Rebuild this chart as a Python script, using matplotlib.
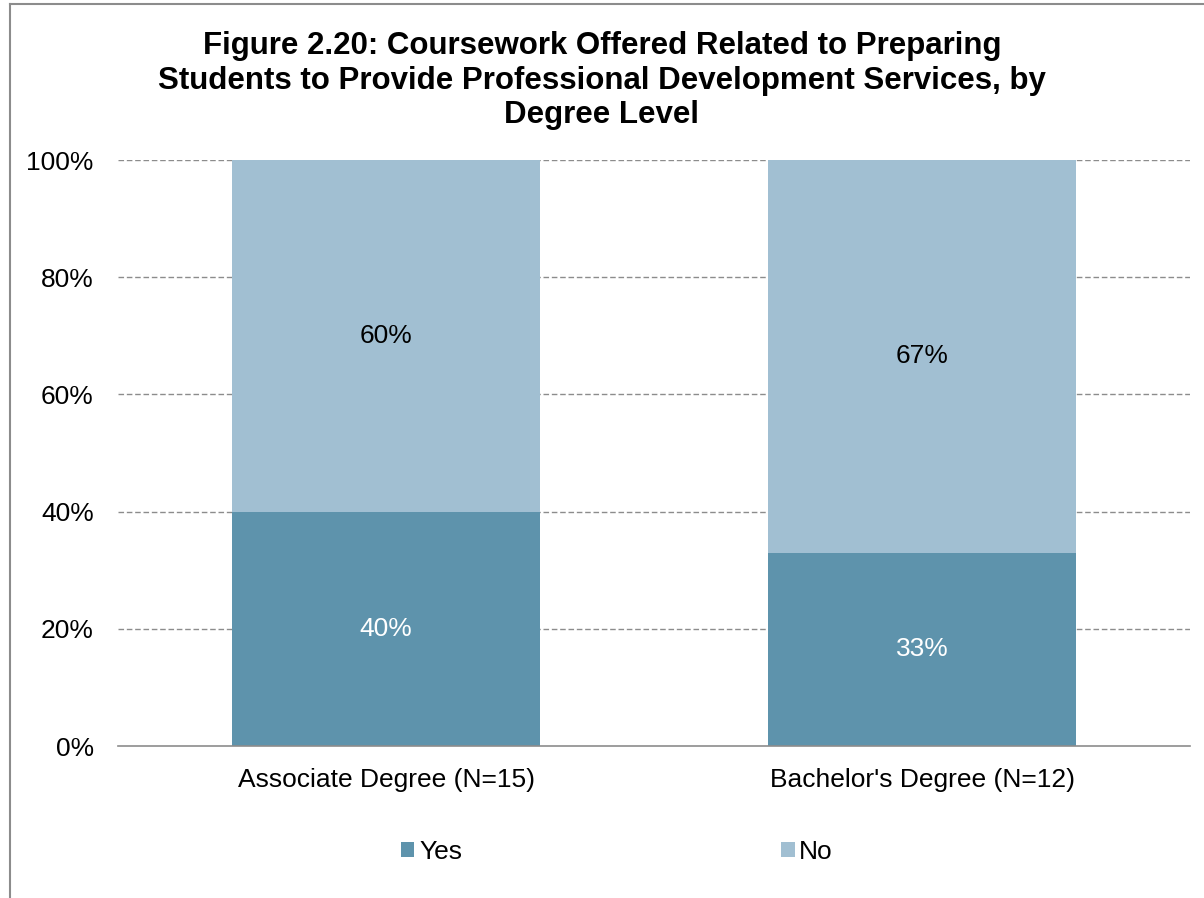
import matplotlib
matplotlib.use("Agg")
import matplotlib.pyplot as plt
from matplotlib.lines import Line2D
from matplotlib.patches import Patch

categories = ["Associate Degree (N=15)", "Bachelor's Degree (N=12)"]
series_names = ["Yes", "No"]
yes_values = [40, 33]
no_values = [60, 67]
y_ticks = [0, 20, 40, 60, 80, 100]
y_tick_labels = ["0%", "20%", "40%", "60%", "80%", "100%"]
title = ("Figure 2.20: Coursework Offered Related to Preparing\n"
         "Students to Provide Professional Development Services, by\n"
         "Degree Level")

yes_color = "#5E93AC"
no_color = "#A1BFD2"
plt.rcParams["font.family"] = ["Liberation Sans", "DejaVu Sans"]
FS = 19

W, H = 1204, 898
fig = plt.figure(figsize=(W / 100, H / 100), dpi=100)
ax = fig.add_axes([118 / W, 1 - 746 / H, (1190 - 118) / W, (746 - 160) / H])

x = list(range(len(categories)))
bar_w = 0.573
ax.bar(x, yes_values, width=bar_w, color=yes_color, zorder=3, label=series_names[0])
ax.bar(x, no_values, width=bar_w, bottom=yes_values, color=no_color, zorder=3,
       label=series_names[1])

for xi, yv, nv in zip(x, yes_values, no_values):
    ax.text(xi, yv / 2, f"{yv}%", ha="center", va="center", fontsize=FS, color="white", zorder=4)
    ax.text(xi, yv + nv / 2, f"{nv}%", ha="center", va="center", fontsize=FS, color="black", zorder=4)

ax.set_xlim(-0.5, len(categories) - 0.5)
ax.set_ylim(0, 100)
ax.set_yticks(y_ticks)
ax.set_yticklabels(y_tick_labels, fontsize=FS)
ax.set_xticks(x)
ax.set_xticklabels(categories, fontsize=FS)
ax.tick_params(axis="both", length=0)
ax.tick_params(axis="y", pad=17.5)
ax.tick_params(axis="x", pad=15.5)
for s in ["left", "right", "top"]:
    ax.spines[s].set_visible(False)
ax.spines["bottom"].set_color("#8C8C8C")
ax.spines["bottom"].set_linewidth(1.2)
ax.spines["bottom"].set_zorder(5)
for t in y_ticks[1:]:
    ax.axhline(t, color="#8C8C8C", linestyle=(0, (4, 2)), linewidth=1.0, zorder=1)

fig.text(0.5, 1 - 31 / H, title, ha="center", va="top", fontsize=22.5, fontweight="bold",
         linespacing=1.2)

handles = [Patch(facecolor=yes_color, edgecolor="none"), Patch(facecolor=no_color, edgecolor="none")]
fig.legend(handles, series_names, loc="center", bbox_to_anchor=(617 / W, 1 - 852 / H), ncol=2,
           frameon=False, fontsize=FS, handlelength=0.5, handleheight=0.5,
           handletextpad=0.18, columnspacing=12.1)

# outer frame (left and top edges)
fig.add_artist(Line2D([10 / W, 10 / W], [0, 1 - 4 / H], color="#8C8C8C", linewidth=1.5,
                      transform=fig.transFigure))
fig.add_artist(Line2D([10 / W, 1], [1 - 4 / H, 1 - 4 / H], color="#8C8C8C", linewidth=1.5,
                      transform=fig.transFigure))

fig.savefig("out.png", dpi=100, facecolor="white")
